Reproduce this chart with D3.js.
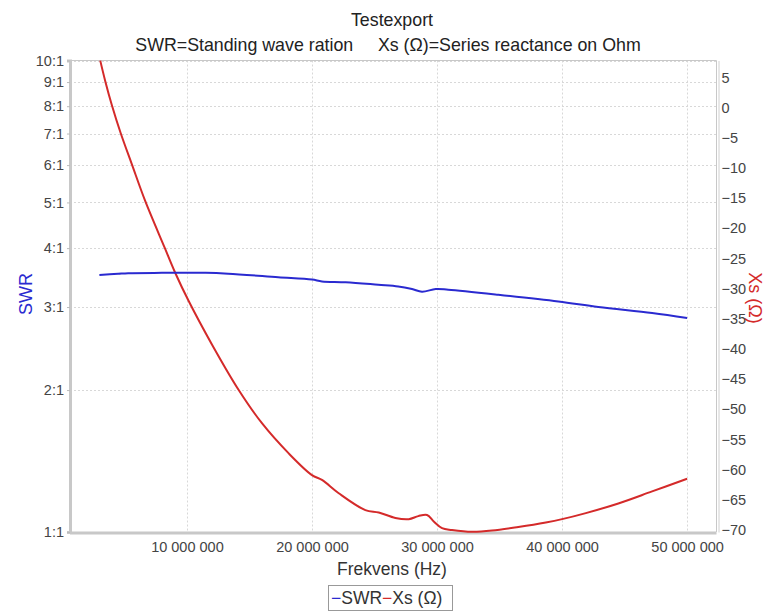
<!DOCTYPE html>
<html>
<head>
<meta charset="utf-8">
<script src="https://cdn.jsdelivr.net/npm/d3@7"></script>
<style>
  html, body { margin: 0; padding: 0; background: #fff; }
  svg { display: block; font-family: "Liberation Sans", Arial, sans-serif; }
  .pre { white-space: pre; }
</style>
</head>
<body>
<svg id="chart" width="765" height="613"></svg>
<script>
// Sweep results: SWR (left, log scale) and series reactance Xs (right)
const swrFreq = [3.0e6, 4.5e6, 5.3e6, 8.0e6, 11.5e6, 13.3e6, 17.3e6, 20.0e6, 20.8e6, 22.7e6,
                 25.3e6, 26.9e6, 28.0e6, 28.8e6, 29.9e6, 30.9e6, 34.9e6, 39.7e6, 42.9e6, 47.2e6, 50.0e6];
const swrValues = [3.51, 3.53, 3.54, 3.545, 3.545, 3.53, 3.47, 3.43, 3.40, 3.386,
                   3.345, 3.318, 3.276, 3.233, 3.276, 3.265, 3.186, 3.083, 3.0, 2.913, 2.843];

const xsFreq = [3.07e6, 3.47e6, 4.0e6, 4.7e6, 5.6e6, 6.67e6, 8.22e6, 9.07e6, 10.14e6, 12.0e6, 14.14e6,
                16.0e6, 18.14e6, 20.0e6, 20.8e6, 22.14e6, 24.27e6, 25.34e6, 26.67e6, 27.74e6, 28.5e6,
                29.2e6, 29.74e6, 30.4e6, 31.2e6, 32.8e6, 34.4e6, 36.5e6, 38.7e6, 40.0e6, 41.9e6,
                44.5e6, 47.2e6, 50.0e6];
const xsValues = [7.8, 4.4, 0.4, -4.2, -9.4, -15.5, -23.2, -27.4, -32.05, -39.25, -46.8,
                  -52.3, -57.3, -60.9, -61.7, -63.9, -66.7, -67.1, -68.0, -68.2, -67.7,
                  -67.5, -68.6, -69.7, -70.0, -70.3, -70.1, -69.5, -68.75, -68.2, -67.2,
                  -65.6, -63.6, -61.5];

const freqTicks = [10e6, 20e6, 30e6, 40e6, 50e6];
const swrTicks = [1, 2, 3, 4, 5, 6, 7, 8, 9, 10];
const xsTicks = [-70, -65, -60, -55, -50, -45, -40, -35, -30, -25, -20, -15, -10, -5, 0, 5];

const svg = d3.select("#chart");
const plotLeft = 70, plotRight = 716.5, plotTop = 60.5, plotBottom = 532;
const tickFont = 14.5;

const x = d3.scaleLinear().domain([0.65e6, 52.35e6]).range([plotLeft, plotRight]);
const yL = d3.scaleLog().domain([1, 10]).range([plotBottom, plotTop]);
const yR = d3.scaleLinear().domain([-70.33, 7.82]).range([plotBottom, plotTop]);

const spaceFmt = d3.formatLocale({ decimal: ".", thousands: " ", grouping: [3], currency: ["", ""] }).format(",");

// grid
const grid = svg.append("g").attr("stroke", "#d8d8d8").attr("stroke-width", 1).attr("stroke-dasharray", "2,2");
grid.selectAll("line.h").data(swrTicks).join("line")
  .attr("x1", plotLeft).attr("x2", plotRight)
  .attr("y1", d => Math.round(yL(d)) + 0.5).attr("y2", d => Math.round(yL(d)) + 0.5);
grid.selectAll("line.v").data(freqTicks).join("line")
  .attr("y1", plotTop).attr("y2", plotBottom)
  .attr("x1", d => Math.round(x(d)) + 0.5).attr("x2", d => Math.round(x(d)) + 0.5);

// frame
svg.append("line").attr("x1", plotLeft).attr("x2", plotRight).attr("y1", plotTop).attr("y2", plotTop).attr("stroke", "#c8c8c8");
svg.append("line").attr("x1", plotRight).attr("x2", plotRight).attr("y1", plotTop).attr("y2", plotBottom).attr("stroke", "#c8c8c8");

// left axis (SWR)
const axL = svg.append("g").attr("transform", `translate(${plotLeft},0)`)
  .call(d3.axisLeft(yL).tickValues(swrTicks).tickFormat(d => d + ":1").tickSize(3).tickPadding(3));
axL.select(".domain").attr("stroke", "#c8c8c8").attr("stroke-width", 3);
axL.selectAll(".tick line").attr("stroke", "#bbb");
axL.selectAll("text").attr("font-size", tickFont).attr("fill", "#444").attr("font-family", "Liberation Sans, Arial, sans-serif");

// right axis (Xs)
const axR = svg.append("g").attr("transform", `translate(${plotRight + 2},0)`)
  .call(d3.axisRight(yR).tickValues(xsTicks).tickFormat(d3.format("d")).tickSize(0).tickPadding(3));
axR.select(".domain").attr("stroke", "#d0d0d0").attr("stroke-width", 1);
axR.selectAll("text").attr("font-size", tickFont).attr("fill", "#444").attr("font-family", "Liberation Sans, Arial, sans-serif");

// bottom axis (frequency)
const axB = svg.append("g").attr("transform", `translate(0,${plotBottom + 1})`)
  .call(d3.axisBottom(x).tickValues(freqTicks).tickFormat(d => spaceFmt(d)).tickSize(0).tickPadding(9));
axB.select(".domain").attr("stroke", "#c8c8c8").attr("stroke-width", 3).attr("d", `M${plotLeft},0H${plotRight}`);
axB.selectAll("text").attr("font-size", tickFont).attr("fill", "#444").attr("font-family", "Liberation Sans, Arial, sans-serif");

// series
const lineSwr = d3.line().x((d, i) => x(swrFreq[i])).y(d => yL(d)).curve(d3.curveCatmullRom.alpha(0.5));
const lineXs = d3.line().x((d, i) => x(xsFreq[i])).y(d => yR(d)).curve(d3.curveCatmullRom.alpha(0.5));

svg.append("path").datum(xsValues).attr("d", lineXs)
  .attr("fill", "none").attr("stroke", "#d42a2a").attr("stroke-width", 2);
svg.append("path").datum(swrValues).attr("d", lineSwr)
  .attr("fill", "none").attr("stroke", "#2a2ad0").attr("stroke-width", 2);

// titles
svg.append("text").attr("x", 392).attr("y", 26).attr("text-anchor", "middle")
  .attr("font-size", 17.8).attr("fill", "#222").text("Testexport");
svg.append("text").attr("class", "pre").attr("x", 388).attr("y", 51).attr("text-anchor", "middle")
  .attr("font-size", 17.8).attr("fill", "#222")
  .text("SWR=Standing wave ration     Xs (Ω)=Series reactance on Ohm");

svg.append("text").attr("transform", "translate(32,294) rotate(-90)").attr("text-anchor", "middle")
  .attr("font-size", 18).attr("fill", "#2a2ad0").text("SWR");
svg.append("text").attr("transform", "translate(749,298) rotate(90)").attr("text-anchor", "middle")
  .attr("font-size", 18).attr("fill", "#d42a2a").text("Xs (Ω)");

svg.append("text").attr("x", 392).attr("y", 575).attr("text-anchor", "middle")
  .attr("font-size", 17.5).attr("fill", "#333").text("Frekvens (Hz)");

// legend
const lg = svg.append("g");
lg.append("rect").attr("x", 328.5).attr("y", 585.5).attr("width", 124).attr("height", 25)
  .attr("fill", "#fff").attr("stroke", "#999");
const lt = lg.append("text").attr("x", 331).attr("y", 604).attr("font-size", 17.5).attr("fill", "#333");
lt.append("tspan").attr("fill", "#2a2ad0").text("−");
lt.append("tspan").text("SWR");
lt.append("tspan").attr("fill", "#d42a2a").text("−");
lt.append("tspan").text("Xs (Ω)");
</script>
</body>
</html>
